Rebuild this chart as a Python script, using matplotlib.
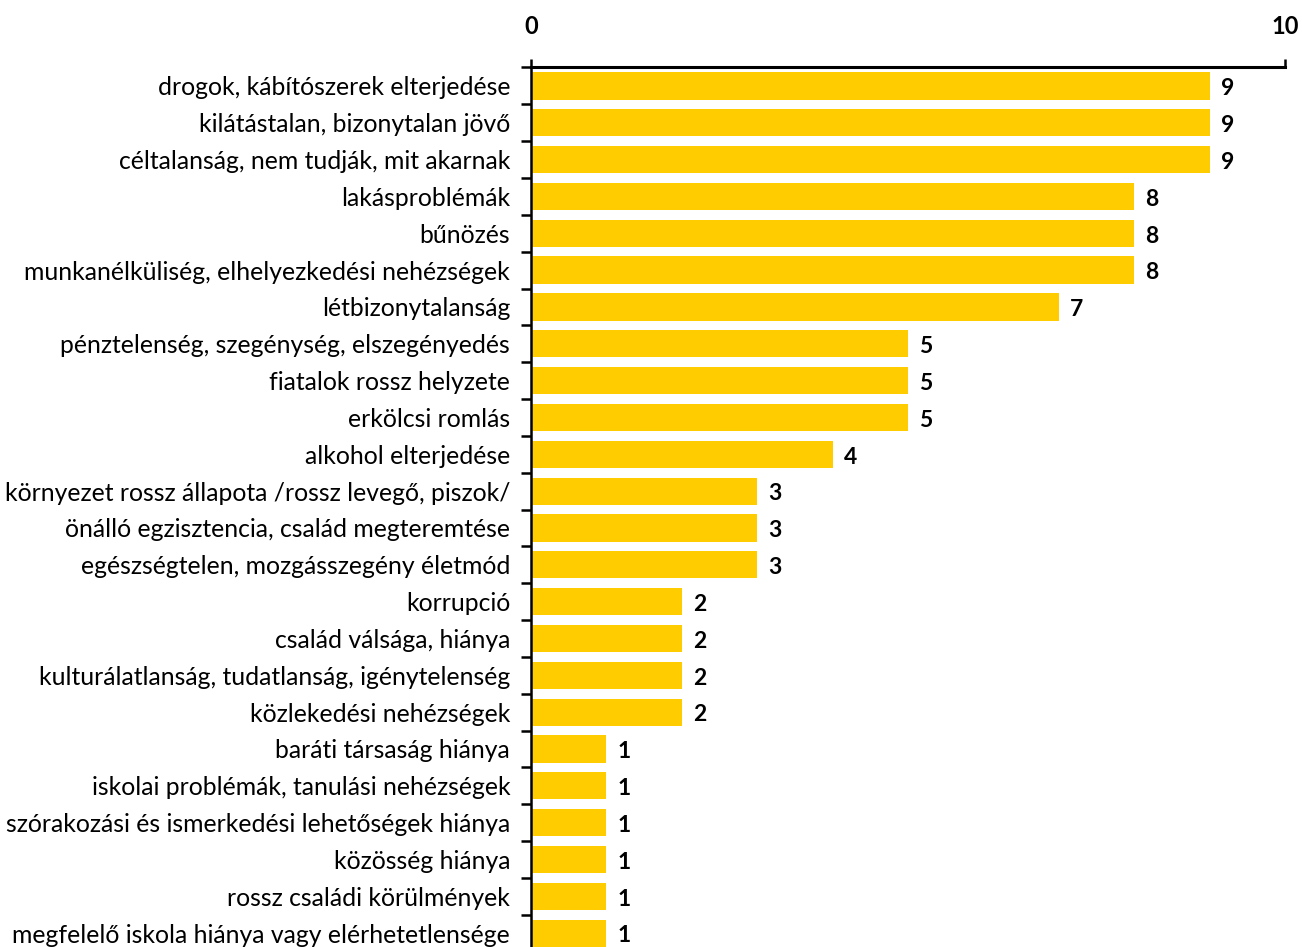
import matplotlib
matplotlib.use("Agg")
import matplotlib.pyplot as plt
import numpy as np

categories = [
    "drogok, kábítószerek elterjedése",
    "kilátástalan, bizonytalan jövő",
    "céltalanság, nem tudják, mit akarnak",
    "lakásproblémák",
    "bűnözés",
    "munkanélküliség, elhelyezkedési nehézségek",
    "létbizonytalanság",
    "pénztelenség, szegénység, elszegényedés",
    "fiatalok rossz helyzete",
    "erkölcsi romlás",
    "alkohol elterjedése",
    "környezet rossz állapota /rossz levegő, piszok/",
    "önálló egzisztencia, család megteremtése",
    "egészségtelen, mozgásszegény életmód",
    "korrupció",
    "család válsága, hiánya",
    "kulturálatlanság, tudatlanság, igénytelenség",
    "közlekedési nehézségek",
    "baráti társaság hiánya",
    "iskolai problémák, tanulási nehézségek",
    "szórakozási és ismerkedési lehetőségek hiánya",
    "közösség hiánya",
    "rossz családi körülmények",
    "megfelelő iskola hiánya vagy elérhetetlensége",
]
values = [9, 9, 9, 8, 8, 8, 7, 5, 5, 5, 4, 3, 3, 3, 2, 2, 2, 2, 1, 1, 1, 1, 1, 1]
x_ticks = [0, 10]

plt.rcParams['font.family'] = ['Lato', 'DejaVu Sans']

fig = plt.figure(figsize=(13.02, 9.47), dpi=100)
ax = fig.add_axes([531/1302, 1 - 951.6/947, (1285-531)/1302, (951.6-67.5)/947])

n = len(categories)
y = np.arange(n)
ax.barh(y, values, height=0.74, color="#FFCC00", zorder=2)
ax.set_xlim(0, 10)
ax.set_ylim(n - 0.5, -0.5)

for yi, v in zip(y, values):
    ax.annotate(str(v), xy=(v, yi), xytext=(8, -2), textcoords="offset points",
                va="center", ha="left", fontsize=16.5,
                fontweight="bold", color="#000000")

ax.xaxis.tick_top()
ax.set_xticks(x_ticks)
ax.set_xticklabels([str(t) for t in x_ticks], fontsize=17, fontweight="bold")
ax.tick_params(axis="x", direction="out", length=6, width=1.8, pad=15)

ax.set_yticks(np.arange(-0.5, n, 1), minor=False)
ax.set_yticklabels([])
ax.set_yticks(y, minor=True)
ax.set_yticklabels(categories, minor=True, fontsize=17.8)
ax.tick_params(axis="y", which="major", direction="out", length=7, width=1.8)
ax.tick_params(axis="y", which="minor", length=0, pad=15)

for s in ["right", "bottom"]:
    ax.spines[s].set_visible(False)
ax.spines["top"].set_linewidth(2.2)
ax.spines["left"].set_linewidth(1.8)

fig.savefig("out.png", dpi=100)
